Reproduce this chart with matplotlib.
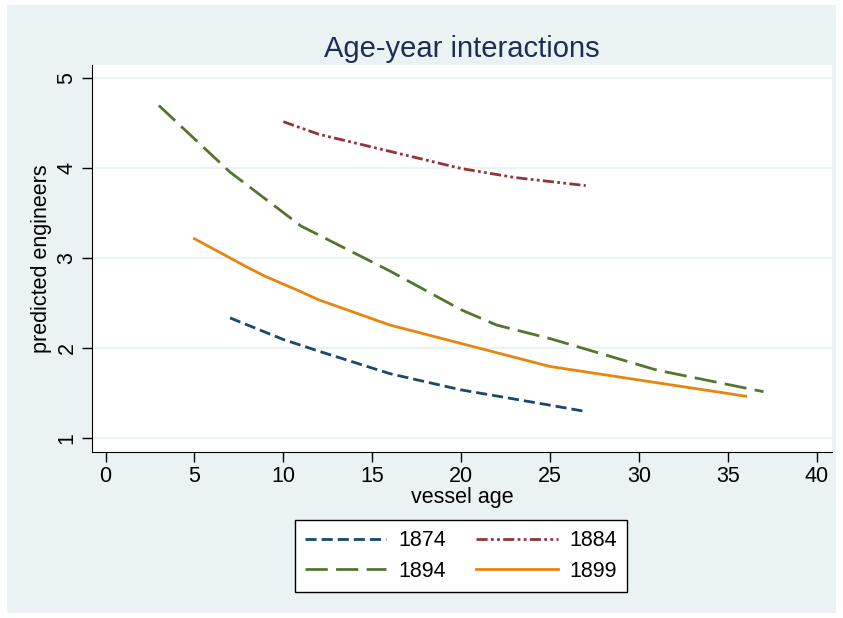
"""Predicted engineers by vessel age, one line per build year."""

import matplotlib

matplotlib.use("Agg")
import matplotlib.pyplot as plt
from matplotlib.patches import Rectangle

plt.rcParams["font.family"] = ["Liberation Sans", "DejaVu Sans"]

# predicted engineers at each vessel age, by year
age_1874 = [7, 10, 12, 16, 20, 25, 27]
eng_1874 = [2.33, 2.09, 1.96, 1.71, 1.53, 1.36, 1.29]

age_1884 = [10, 12, 16, 20, 23, 27]
eng_1884 = [4.51, 4.37, 4.18, 3.99, 3.89, 3.80]

age_1894 = [3, 7, 11, 16, 20, 22, 25, 31, 37]
eng_1894 = [4.69, 3.95, 3.35, 2.85, 2.42, 2.25, 2.10, 1.75, 1.51]

age_1899 = [5, 8, 9, 11, 12, 16, 25, 36]
eng_1899 = [3.21, 2.89, 2.79, 2.62, 2.53, 2.25, 1.79, 1.46]

x_ticks = [0, 5, 10, 15, 20, 25, 30, 35, 40]
y_ticks = [1, 2, 3, 4, 5]

BG = "#eaf2f3"
FS = 15.5

fig = plt.figure(figsize=(8.43, 6.18), dpi=100, facecolor="white")
W, H = 843, 618
# graph region: light tint inside a thin white margin
fig.patches.append(Rectangle((7 / W, 5 / H), (W - 14) / W, (H - 10) / H,
                             transform=fig.transFigure, facecolor=BG,
                             edgecolor="none", zorder=-1))

ax = fig.add_axes([92 / W, 1 - 452 / H, 740 / W, 387 / H])
ax.set_facecolor("white")

l1, = ax.plot(age_1874, eng_1874, color="#1a476f", lw=2, dashes=(4, 1.8),
              label="1874")
l2, = ax.plot(age_1884, eng_1884, color="#90353b", lw=2,
              dashes=(4, 1.2, 1, 1.2, 1, 1.2), label="1884")
l3, = ax.plot(age_1894, eng_1894, color="#55752f", lw=2, dashes=(8, 3),
              label="1894")
l4, = ax.plot(age_1899, eng_1899, color="#e8850c", lw=2, label="1899")

ax.set_xlim(-0.76, 40.85)
ax.set_ylim(0.84, 5.14)
ax.set_xticks(x_ticks)
ax.set_yticks(y_ticks)
ax.tick_params(axis="both", direction="out", length=7, width=1,
               labelsize=FS, color="black")
ax.tick_params(axis="x", pad=3)
for lbl in ax.get_yticklabels():
    lbl.set_rotation(90)
    lbl.set_va("center")
ax.grid(axis="y", color=BG, lw=1.6)
ax.set_axisbelow(True)
for side in ("top", "right"):
    ax.spines[side].set_visible(False)

ax.set_xlabel("vessel age", fontsize=FS, labelpad=0)
ax.set_ylabel("predicted engineers", fontsize=FS, labelpad=3)
ax.set_title("Age-year interactions", fontsize=21, color="#1e2d53", pad=6)

# legend fills column-wise, so order handles to read 1874/1884 on the top row
handles = [l1, l3, l2, l4]
leg = fig.legend(handles=handles, labels=[h.get_label() for h in handles],
                 loc="center", bbox_to_anchor=(461 / W, 1 - 556 / H), ncol=2,
                 fontsize=FS, frameon=True, fancybox=False, framealpha=1,
                 handlelength=3.8, handletextpad=0.55, columnspacing=1.4,
                 borderpad=0.45, labelspacing=0.45)
leg.get_frame().set_edgecolor("black")
leg.get_frame().set_linewidth(1)

fig.savefig("out.png", dpi=100, facecolor=fig.get_facecolor())
